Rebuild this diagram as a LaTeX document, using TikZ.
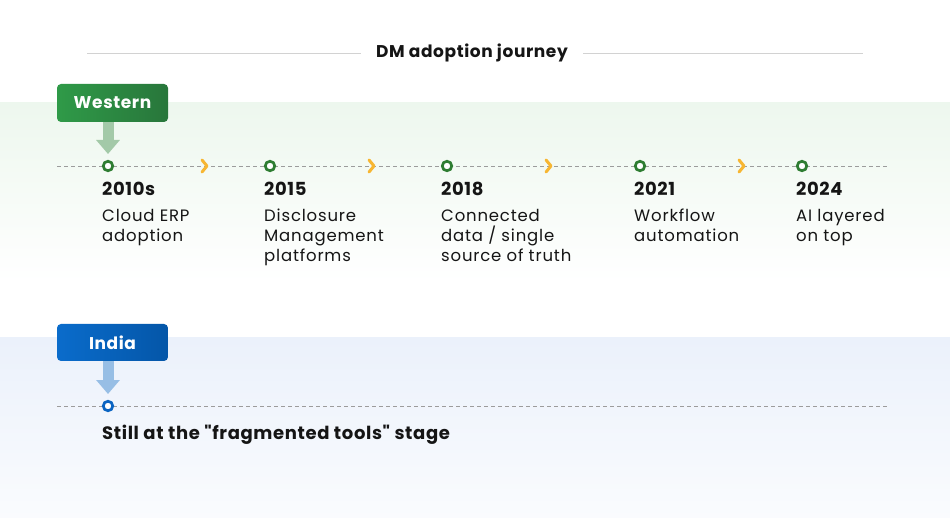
\documentclass[tikz,border=0pt]{standalone}
\usepackage{fontspec}
\setmainfont{Poppins}[LetterSpace=5,BoldFeatures={LetterSpace=3.5}]
% same face without the TeX quote mapping, for straight quotes
\newfontfamily\plainquotes{Poppins}[LetterSpace=3.5]
\usetikzlibrary{arrows.meta,positioning,calc}
\definecolor{Ink}{HTML}{151515}
\definecolor{Rule}{HTML}{D2D2D2}
\definecolor{Track}{HTML}{9C9C9C}
\definecolor{Chevron}{HTML}{F7B632}
\definecolor{WestBand}{HTML}{EDF7EE}
\definecolor{WestLeft}{HTML}{2F9A48}
\definecolor{WestRight}{HTML}{28763B}
\definecolor{WestDrop}{HTML}{A3C9A8}
\definecolor{WestDot}{HTML}{2E7D32}
\definecolor{IndiaBand}{HTML}{EBF1FB}
\definecolor{IndiaLeft}{HTML}{0A6CCB}
\definecolor{IndiaRight}{HTML}{0456A8}
\definecolor{IndiaDrop}{HTML}{97BEE5}
\definecolor{IndiaDot}{HTML}{0A64C2}
\tikzset{
  title/.style={font=\bfseries\fontsize{17}{20}\selectfont,text=Ink,inner xsep=15pt},
  rule/.style={draw=Rule,line width=.8pt},
  tag/.style={rounded corners=4pt,text=white,font=\bfseries\fontsize{17}{20}\selectfont,minimum width=111pt,minimum height=38pt,inner sep=0pt},
  drop/.style={line width=11pt,-{Triangle[length=14pt,width=23pt]}},
  track/.style={draw=Track,line width=.9pt,dash pattern=on 4pt off 3pt},
  dot/.style={circle,draw,line width=2.7pt,fill=white,minimum size=9.5pt,inner sep=0pt},
  year/.style={anchor=base west,inner sep=0pt,font=\bfseries\fontsize{18}{20}\selectfont,text=Ink},
  note/.style={anchor=north west,align=left,inner sep=0pt,font=\fontsize{16.5}{20}\selectfont,text=Ink},
  chev/.style={draw=Chevron,line width=3pt,line cap=round,line join=round}
}
\begin{document}
\begin{tikzpicture}[x=1pt,y=-1pt]
  \useasboundingbox (0,0) rectangle (950,518);
  \fill[white] (0,0) rectangle (950,518);
  % bands
  \shade[top color=WestBand,bottom color=white] (0,103) rectangle (950,282);
  \shade[top color=IndiaBand,bottom color=IndiaBand!25!white] (0,338) rectangle (950,518);

  % heading
  \node[title] (title) at (472,53) {DM adoption journey};
  \coordinate (ruleL) at (87,53);
  \coordinate (ruleR) at (863,53);
  \draw[rule] (ruleL) -- (title.west);
  \draw[rule] (title.east) -- (ruleR);

  % western track
  \coordinate (wstart) at (57,166);
  \coordinate (wend) at (887,166);
  \draw[track] (wstart) -- (wend);
  \foreach \n/\x/\yr/\txt in {1/108/2010s/{Cloud ERP\\adoption},
      2/270/2015/{Disclosure\\Management\\platforms},
      3/447/2018/{Connected\\data / single\\source of truth},
      4/640/2021/{Workflow\\automation},
      5/802/2024/{AI layered\\on top}} {
    \node[dot,draw=WestDot] (w\n) at (\x,166) {};
    \node[year] (y\n) at (\x-6,196) {\yr};
    \node[note] (t\n) at (\x-6,209) {\txt};
  }
  \foreach \a/\d in {1/97,2/102,3/102,4/102}
    \draw[chev] ($(w\a)+(\d-3,-6)$) -- ++(5,6) -- ++(-5,6);

  \coordinate (wtip) at (108,154);
  \draw[drop,draw=WestDrop,fill=WestDrop] (w1 |- 0,121) -- (wtip);
  \node[tag,left color=WestLeft,right color=WestRight] (west) at (112.5,103) {Western};

  % india track
  \coordinate (istart) at (57,406);
  \coordinate (iend) at (887,406);
  \draw[track] (istart) -- (iend);
  \node[dot,draw=IndiaDot] (i1) at (108,406) {};
  \node[year] (still) at (102,439) {\plainquotes\bfseries Still at the "fragmented tools" stage};

  \coordinate (itip) at (108,394);
  \draw[drop,draw=IndiaDrop,fill=IndiaDrop] (i1 |- 0,360) -- (itip);
  \node[tag,left color=IndiaLeft,right color=IndiaRight,minimum height=37pt] (india) at (112.5,342.5) {India};
\end{tikzpicture}
\end{document}
